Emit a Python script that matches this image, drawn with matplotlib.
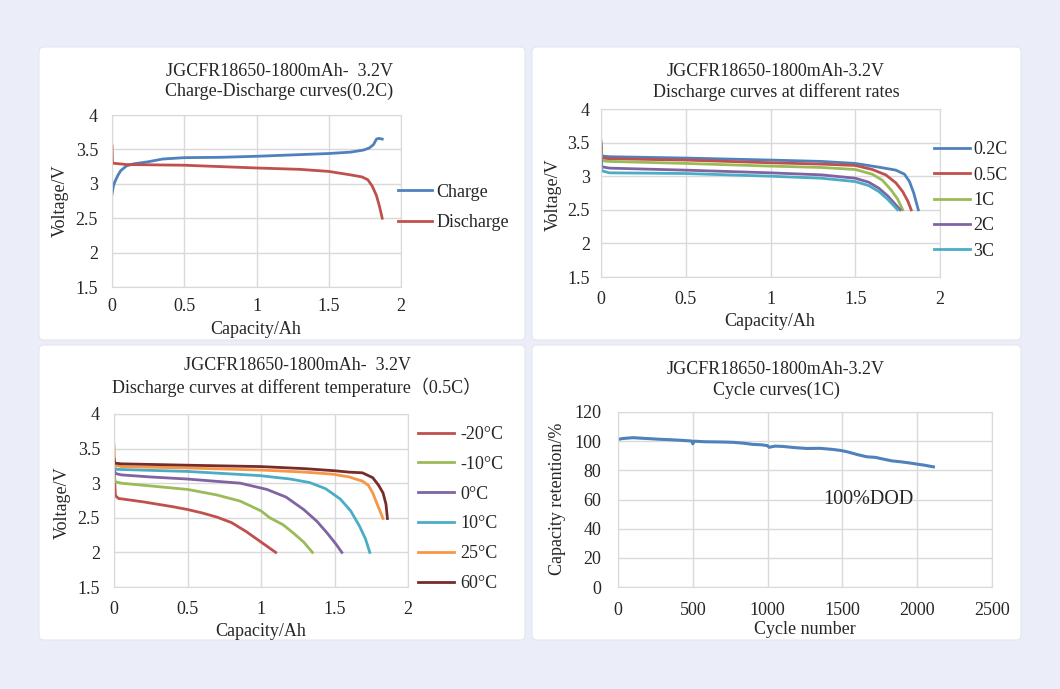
import matplotlib
matplotlib.use("Agg")
import matplotlib.pyplot as plt
from matplotlib.patches import FancyBboxPatch
from matplotlib.ticker import FormatStrFormatter

plt.rcParams['font.family'] = ['Liberation Serif', 'Noto Sans CJK SC']
plt.rcParams['font.size'] = 13
plt.rcParams['text.color'] = '#262626'

# Panel 1: charge / discharge at 0.2C
charge_cap = [0, 0.01, 0.02, 0.04, 0.06, 0.1, 0.15, 0.25, 0.35, 0.5, 0.75, 1.0, 1.25, 1.5,
              1.65, 1.74, 1.78, 1.81, 1.83, 1.845, 1.87]
charge_v = [2.85, 2.97, 3.03, 3.12, 3.19, 3.26, 3.29, 3.32, 3.36, 3.38, 3.385, 3.4, 3.42, 3.44,
            3.46, 3.49, 3.52, 3.57, 3.65, 3.66, 3.65]
dis_cap = [0, 0.003, 0.1, 0.5, 1.0, 1.3, 1.5, 1.65, 1.73, 1.77, 1.8, 1.83, 1.85, 1.87]
dis_v = [3.55, 3.3, 3.28, 3.27, 3.23, 3.21, 3.18, 3.13, 3.1, 3.06, 2.97, 2.83, 2.68, 2.5]

# Panel 2: discharge at different rates
rate_names = ['0.2C', '0.5C', '1C', '2C', '3C']
rate_cap = [
    [0, 0.005, 0.05, 0.5, 1.0, 1.3, 1.5, 1.65, 1.74, 1.79, 1.82, 1.845, 1.872],
    [0, 0.005, 0.05, 0.5, 1.0, 1.3, 1.5, 1.6, 1.68, 1.74, 1.78, 1.81, 1.83],
    [0, 0.005, 0.05, 0.5, 1.0, 1.3, 1.5, 1.6, 1.66, 1.71, 1.75, 1.78],
    [0, 0.005, 0.05, 0.5, 1.0, 1.3, 1.5, 1.58, 1.64, 1.69, 1.73, 1.765],
    [0, 0.005, 0.05, 0.5, 1.0, 1.3, 1.5, 1.58, 1.64, 1.69, 1.72, 1.75],
]
rate_v = [
    [3.52, 3.3, 3.29, 3.27, 3.24, 3.22, 3.19, 3.13, 3.09, 3.03, 2.92, 2.75, 2.5],
    [3.48, 3.27, 3.26, 3.24, 3.2, 3.18, 3.16, 3.1, 3.02, 2.9, 2.77, 2.63, 2.5],
    [3.4, 3.23, 3.22, 3.19, 3.15, 3.13, 3.1, 3.03, 2.94, 2.8, 2.66, 2.5],
    [3.3, 3.14, 3.12, 3.09, 3.05, 3.02, 2.97, 2.91, 2.82, 2.71, 2.6, 2.5],
    [3.2, 3.08, 3.05, 3.04, 3.0, 2.97, 2.92, 2.86, 2.77, 2.66, 2.58, 2.5],
]
rate_colors = ['#4F81BD', '#C0504D', '#9BBB59', '#8064A2', '#4BACC6']

# Panel 3: discharge at different temperatures (0.5C)
temp_names = ['-20°C', '-10°C', '0°C', '10°C', '25°C', '60°C']
temp_cap = [
    [0, 0.01, 0.03, 0.2, 0.4, 0.5, 0.6, 0.7, 0.8, 0.9, 1.0, 1.1],
    [0, 0.01, 0.05, 0.25, 0.5, 0.7, 0.86, 1.0, 1.06, 1.15, 1.22, 1.29, 1.35],
    [0, 0.01, 0.05, 0.25, 0.5, 0.86, 1.04, 1.17, 1.29, 1.38, 1.45, 1.51, 1.55],
    [0, 0.02, 0.5, 0.99, 1.2, 1.33, 1.44, 1.54, 1.61, 1.67, 1.71, 1.74],
    [0, 0.005, 0.05, 0.5, 1.0, 1.3, 1.49, 1.6, 1.69, 1.73, 1.76, 1.79, 1.83],
    [0, 0.005, 0.05, 0.5, 1.0, 1.3, 1.5, 1.6, 1.69, 1.76, 1.8, 1.83, 1.85, 1.86],
]
temp_v = [
    [3.2, 2.82, 2.78, 2.73, 2.66, 2.62, 2.57, 2.51, 2.43, 2.3, 2.15, 2.0],
    [3.1, 3.02, 3.0, 2.96, 2.91, 2.83, 2.74, 2.6, 2.5, 2.4, 2.28, 2.15, 2.0],
    [3.2, 3.14, 3.12, 3.09, 3.06, 3.0, 2.91, 2.8, 2.62, 2.45, 2.28, 2.12, 2.0],
    [3.22, 3.2, 3.17, 3.11, 3.06, 3.01, 2.92, 2.77, 2.6, 2.38, 2.2, 2.0],
    [3.55, 3.26, 3.24, 3.22, 3.19, 3.16, 3.13, 3.09, 3.03, 2.97, 2.86, 2.7, 2.49],
    [3.35, 3.29, 3.28, 3.26, 3.24, 3.21, 3.18, 3.16, 3.15, 3.08, 2.97, 2.86, 2.7, 2.49],
]
temp_colors = ['#C0504D', '#9BBB59', '#8064A2', '#4BACC6', '#F79646', '#772C2A']

# Panel 4: cycle life at 1C
cycles = [0, 30, 100, 160, 214, 280, 350, 420, 493, 500, 510, 580, 650, 710, 771, 840, 900,
          960, 1000, 1010, 1050, 1100, 1180, 1261, 1350, 1439, 1490, 1529, 1600, 1662,
          1720, 1773, 1830, 1885, 1940, 1997, 2050, 2108]
retention = [101.2, 101.8, 102.4, 102.0, 101.7, 101.3, 101.0, 100.6, 100.1, 98.2, 100.0,
             99.6, 99.5, 99.4, 99.2, 98.6, 97.8, 97.5, 96.9, 95.8, 96.6, 96.4, 95.6, 95.0,
             95.1, 94.3, 93.6, 92.8, 90.8, 89.3, 88.9, 87.7, 86.5, 85.9, 85.2, 84.3, 83.5, 82.4]

volt_ticks = [1.5, 2, 2.5, 3, 3.5, 4]
cap_ticks = [0, 0.5, 1, 1.5, 2]
ret_ticks = [0, 20, 40, 60, 80, 100, 120]
cyc_ticks = [0, 500, 1000, 1500, 2000, 2500]

W, H = 1060, 689
fig = plt.figure(figsize=(W / 100, H / 100), dpi=100)
fig.patch.set_facecolor('#EBEEF9')

# background layer in pixel coordinates for panels and texts
bg = fig.add_axes([0, 0, 1, 1])
bg.set_xlim(0, W)
bg.set_ylim(H, 0)
bg.axis('off')
panels = [(39, 47, 486, 293), (532, 47, 489, 293), (39, 345, 486, 295), (532, 345, 489, 295)]
for (px, py, pw, ph) in panels:
    bg.add_patch(FancyBboxPatch((px, py), pw, ph, boxstyle='round,pad=0,rounding_size=5',
                                facecolor='white', edgecolor='#E4E6EE', lw=0.8))


def px_axes(left, top, right, bottom):
    return fig.add_axes([left / W, 1 - bottom / H, (right - left) / W, (bottom - top) / H])


def style(ax, xlim, ylim, xticks, yticks, xpad, ypad):
    ax.set_xlim(*xlim)
    ax.set_ylim(*ylim)
    ax.set_xticks(xticks)
    ax.set_yticks(yticks)
    ax.xaxis.set_major_formatter(FormatStrFormatter('%g'))
    ax.yaxis.set_major_formatter(FormatStrFormatter('%g'))
    ax.grid(color='#D9D9D9', lw=1)
    ax.set_axisbelow(True)
    for s in ax.spines.values():
        s.set_color('#D9D9D9')
    ax.tick_params(length=0, labelsize=13, colors='#262626')
    ax.tick_params(axis='x', pad=xpad)
    ax.tick_params(axis='y', pad=ypad)
    ax.set_facecolor('none')


def legend(ax, x, yc, spacing, hl, tp):
    ax.legend(loc='center left', bbox_to_anchor=(x, yc), bbox_transform=bg.transData,
              frameon=False, borderpad=0, borderaxespad=0, labelspacing=spacing,
              handlelength=hl, handletextpad=tp, fontsize=13)


# Panel 1
ax1 = px_axes(112, 115, 401, 287)
ax1.plot(charge_cap, charge_v, color='#4F81BD', lw=2, label='Charge')
ax1.plot(dis_cap, dis_v, color='#C0504D', lw=2, label='Discharge')
style(ax1, (0, 2), (1.5, 4), cap_ticks, volt_ticks, 8, 10)
legend(ax1, 398, 207.5, 0.75, 1.9, 0.22)

# Panel 2
ax2 = px_axes(601, 109, 940, 277)
for c, v, n, col in zip(rate_cap, rate_v, rate_names, rate_colors):
    ax2.plot(c, v, color=col, lw=2, label=n)
style(ax2, (0, 2), (1.5, 4), cap_ticks, volt_ticks, 10, 8)
legend(ax2, 934, 200.5, 0.46, 2.0, 0.18)

# Panel 3
ax3 = px_axes(114, 414, 408, 587)
for c, v, n, col in zip(temp_cap, temp_v, temp_names, temp_colors):
    ax3.plot(c, v, color=col, lw=2, label=n)
style(ax3, (0, 2), (1.5, 4), cap_ticks, volt_ticks, 10, 10)
legend(ax3, 418, 509, 0.71, 2.0, 0.33)

# Panel 4
ax4 = px_axes(618, 412, 992, 587)
ax4.plot(cycles, retention, color='#4F81BD', lw=2.2)
style(ax4, (0, 2500), (0, 120), cyc_ticks, ret_ticks, 11, 12)
ax4.text(1370, 60, '100%DOD', va='center', ha='left', fontsize=14.5)

# titles and axis labels
titles = [
    (279, 'JGCFR18650-1800mAh-  3.2V', 'Charge-Discharge curves(0.2C)', 71, 91.5),
    (776, 'JGCFR18650-1800mAh-3.2V', 'Discharge curves at different rates', 71.5, 92),
    (297, 'JGCFR18650-1800mAh-  3.2V', 'Discharge curves at different temperature（0.5C）', 366, 387.5),
    (776, 'JGCFR18650-1800mAh-3.2V', 'Cycle curves(1C)', 369.5, 390),
]
for x, l1, l2, y1, y2 in titles:
    bg.text(x, y1, l1, ha='center', va='center')
    bg.text(x, y2, l2, ha='center', va='center')

xlabels = [(256, 329, 'Capacity/Ah'), (770, 321, 'Capacity/Ah'),
           (261, 631, 'Capacity/Ah'), (805, 630, 'Cycle number')]
for x, y, t in xlabels:
    bg.text(x, y, t, ha='center', va='center')
ylabels = [(60, 201, 'Voltage/V'), (553, 195, 'Voltage/V'),
           (62, 503, 'Voltage/V'), (557, 499, 'Capacity retention/%')]
for x, y, t in ylabels:
    bg.text(x, y, t, ha='center', va='center', rotation=90)

fig.savefig('out.png', dpi=100, facecolor=fig.get_facecolor())
